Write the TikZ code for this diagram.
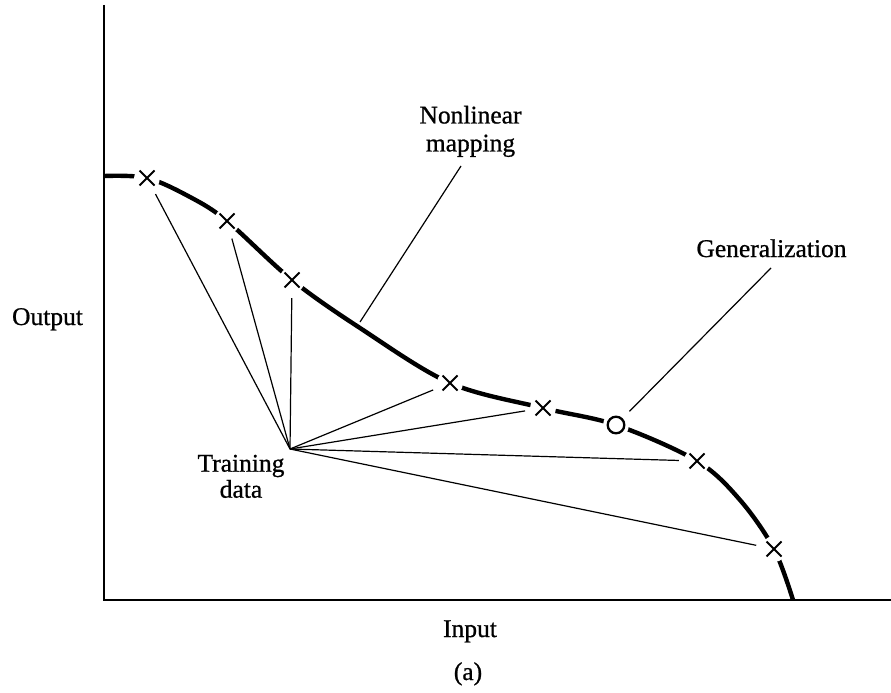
\documentclass[tikz,border=0pt]{standalone}
\usepackage{fontspec}
\setmainfont[FakeBold=0.8]{Liberation Serif}
\begin{document}
\begin{tikzpicture}[x=1pt,y=-1pt,
  lbl/.style={inner sep=0pt, font=\fontsize{25.5}{28}\selectfont},
  xpt/.style={circle, fill=white, inner sep=0pt, minimum size=26pt,
    path picture={
      \draw[line width=1.9pt] ([shift={(-7.5pt,-7.5pt)}]path picture bounding box.center) -- ([shift={(7.5pt,7.5pt)}]path picture bounding box.center);
      \draw[line width=1.9pt] ([shift={(-7.5pt,7.5pt)}]path picture bounding box.center) -- ([shift={(7.5pt,-7.5pt)}]path picture bounding box.center);
    }},
  opt/.style={circle, fill=white, inner sep=0pt, minimum size=26pt,
    path picture={\draw[line width=2.3pt] (path picture bounding box.center) circle (8.3pt);}},
  axis/.style={line width=2.6pt},
  curve/.style={line width=4.4pt},
  thinline/.style={line width=1.2pt},
  leader/.style={line width=1.2pt}]
\fill[white] (0,0) rectangle (891,693);
\useasboundingbox (0,0) rectangle (891,693);

% axes
\coordinate (ytop) at (104,5);
\coordinate (orig) at (104,600);
\coordinate (xend) at (891,600);
\draw[axis] (ytop) -- (orig) -- (xend);

% curve
\draw[curve] plot[smooth, tension=0.55] coordinates {(104,176) (147,178) (190,197) (227,221) (292,280) (360,328) (450,383) (543,408) (616,425) (697,461) (740,500) (774,549) (793,600)};

% training points
\node[xpt] (c1) at (147,178) {};
\node[xpt] (c2) at (227,221) {};
\node[xpt] (c3) at (292,280) {};
\node[xpt] (c4) at (450,383) {};
\node[xpt] (c5) at (543,408) {};
\node[xpt] (c6) at (697,461) {};
\node[xpt] (c7) at (774,549) {};
\node[opt] (gen) at (616,425) {};

\coordinate (td) at (290,449);
\foreach \c in {c1,c2,c3,c4,c5,c6,c7}
  \draw[thinline, shorten >=5pt] (td) -- (\c);

% labels
\node[lbl, anchor=base] (out) at (47.5,325) {Output};
\node[lbl, anchor=base] (inp) at (470,637) {Input};
\node[lbl, anchor=base] (cap) at (468,680) {(a)};
\node[lbl, anchor=base] (genl) at (771.5,257) {Generalization};
\node[lbl, anchor=north, align=center] (nl) at (470.5,105.6) {Nonlinear\\mapping};
\node[lbl, anchor=north, align=center, font=\fontsize{25.5}{26}\selectfont] (tdl) at (241,454.6) {Training\\data};

% leaders
\coordinate (nlfoot) at (461,166);
\coordinate (nltip) at (360,322);
\draw[leader] (nlfoot) -- (nltip);
\coordinate (genfoot) at (771,268);
\draw[leader, shorten >=6pt] (genfoot) -- (gen);
\end{tikzpicture}
\end{document}
